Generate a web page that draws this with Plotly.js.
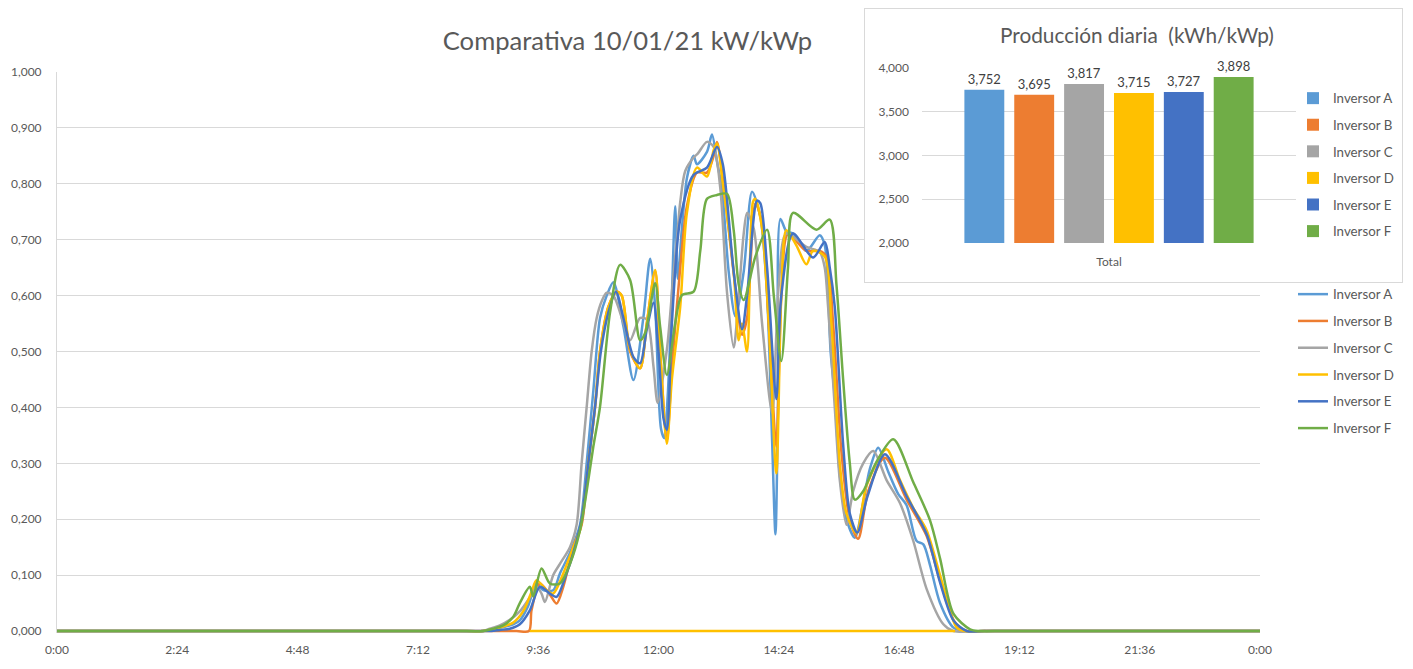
<!DOCTYPE html>
<html>
<head>
<meta charset="utf-8">
<script src="https://cdn.plot.ly/plotly-3.0.1.min.js"></script>
<style>
  html, body { margin: 0; padding: 0; background: #ffffff; }
  #chart { width: 1413px; height: 669px; }
</style>
</head>
<body>
<div id="chart"></div>
<script>
// Specific power (kW/kWp) per inverter through the day, [time, value] pairs.
const seriesNames = ['Inversor A', 'Inversor B', 'Inversor C', 'Inversor D', 'Inversor E', 'Inversor F'];
const seriesColors = ['#5B9BD5', '#ED7D31', '#A5A5A5', '#FFC000', '#4472C4', '#70AD47'];

const inversorA = [
  ['0:00', 0], ['4:00', 0], ['7:00', 0], ['8:00', 0], ['8:30', 0], ['8:42', 0.003], ['8:54', 0.007],
  ['9:06', 0.012], ['9:14', 0.019],
  ['9:24', 0.045], ['9:34', 0.085], ['9:42', 0.073], ['9:54', 0.073], ['10:02', 0.103], ['10:14', 0.14],
  ['10:26', 0.19], ['10:34', 0.3], ['10:42', 0.43], ['10:50', 0.56], ['10:58', 0.6], ['11:06', 0.624],
  ['11:18', 0.545], ['11:30', 0.449], ['11:42', 0.562], ['11:50', 0.666], ['11:56', 0.58], ['12:03', 0.362],
  ['12:07', 0.345], ['12:11', 0.42], ['12:16', 0.6], ['12:20', 0.76], ['12:23', 0.63], ['12:28', 0.72],
  ['12:34', 0.81], ['12:42', 0.85], ['12:46', 0.835], ['12:58', 0.857], ['13:04', 0.888], ['13:10', 0.84],
  ['13:16', 0.79], ['13:24', 0.643], ['13:32', 0.563], ['13:42', 0.643], ['13:52', 0.786], ['14:02', 0.74],
  ['14:10', 0.6], ['14:16', 0.34], ['14:20', 0.173], ['14:23', 0.4], ['14:26', 0.737], ['14:33', 0.715],
  ['14:41', 0.711], ['14:57', 0.68], ['15:13', 0.708], ['15:19', 0.69], ['15:26', 0.5], ['15:31', 0.42],
  ['15:37', 0.28], ['15:45', 0.2], ['15:55', 0.167], ['16:05', 0.23], ['16:13', 0.29], ['16:23', 0.328],
  ['16:35', 0.285], ['16:47', 0.245], ['16:57', 0.225], ['17:09', 0.161], ['17:17', 0.155], ['17:25', 0.118],
  ['17:37', 0.05], ['17:53', 0.006], ['18:05', 0], ['18:30', 0], ['19:30', 0], ['21:00', 0], ['24:00', 0]
];

const inversorB = [
  ['0:00', 0], ['4:00', 0], ['7:00', 0], ['8:30', 0], ['9:10', 0], ['9:25', 0], ['9:28', 0.037],
  ['9:38', 0.085], ['9:50', 0.065], ['9:58', 0.049],
  ['10:06', 0.079], ['10:18', 0.15], ['10:28', 0.19], ['10:36', 0.3], ['10:44', 0.4], ['10:50', 0.5],
  ['11:00', 0.58], ['11:10', 0.607], ['11:16', 0.6], ['11:26', 0.5], ['11:38', 0.47], ['11:46', 0.55],
  ['11:56', 0.644], ['12:02', 0.5], ['12:10', 0.34], ['12:16', 0.47], ['12:26', 0.65], ['12:34', 0.76],
  ['12:46', 0.82], ['12:58', 0.82], ['13:06', 0.85], ['13:10', 0.875], ['13:17', 0.81], ['13:30', 0.64],
  ['13:40', 0.53], ['13:46', 0.56], ['13:56', 0.765], ['14:04', 0.73], ['14:12', 0.55], ['14:21', 0.33],
  ['14:27', 0.6], ['14:35', 0.71], ['14:57', 0.68], ['15:13', 0.68], ['15:21', 0.67], ['15:29', 0.55],
  ['15:39', 0.32], ['15:49', 0.2], ['15:59', 0.165], ['16:11', 0.25], ['16:31', 0.31], ['16:57', 0.235],
  ['17:21', 0.17], ['17:37', 0.09], ['17:55', 0.015], ['18:09', 0], ['18:30', 0], ['19:30', 0],
  ['21:00', 0], ['24:00', 0]
];

const inversorC = [
  ['0:00', 0], ['4:00', 0], ['7:00', 0], ['8:00', 0], ['8:30', 0], ['8:38', 0.004], ['8:50', 0.01],
  ['9:02', 0.02], ['9:14', 0.035],
  ['9:26', 0.06], ['9:34', 0.079], ['9:40', 0.067], ['9:44', 0.052], ['9:54', 0.1], ['10:02', 0.12],
  ['10:14', 0.15], ['10:22', 0.19], ['10:28', 0.3], ['10:34', 0.4], ['10:40', 0.5], ['10:46', 0.56],
  ['10:52', 0.59], ['10:58', 0.605], ['11:06', 0.6], ['11:18', 0.551], ['11:26', 0.52], ['11:38', 0.56],
  ['11:46', 0.557], ['11:54', 0.473], ['11:59', 0.408], ['12:10', 0.503], ['12:18', 0.64], ['12:22', 0.7],
  ['12:26', 0.767], ['12:32', 0.823], ['12:42', 0.847], ['12:47', 0.854], ['12:58', 0.875], ['13:06', 0.866],
  ['13:14', 0.792], ['13:22', 0.606], ['13:30', 0.507], ['13:36', 0.6], ['13:42', 0.711], ['13:46', 0.748],
  ['13:54', 0.72], ['14:04', 0.55], ['14:16', 0.39], ['14:24', 0.62], ['14:33', 0.711], ['14:57', 0.687],
  ['15:13', 0.678], ['15:19', 0.65], ['15:23', 0.58], ['15:31', 0.4], ['15:37', 0.27], ['15:45', 0.19],
  ['15:53', 0.25], ['16:05', 0.3], ['16:17', 0.322], ['16:33', 0.27], ['16:49', 0.229], ['17:05', 0.161],
  ['17:21', 0.075], ['17:41', 0.012], ['17:53', 0], ['18:30', 0], ['19:30', 0], ['21:00', 0], ['24:00', 0]
];

const inversorD = [
  ['0:00', 0], ['4:00', 0], ['7:00', 0], ['8:00', 0], ['8:30', 0], ['8:42', 0.003], ['8:54', 0.008],
  ['9:06', 0.015], ['9:18', 0.035],
  ['9:28', 0.07], ['9:34', 0.091], ['9:46', 0.073], ['9:54', 0.067], ['10:06', 0.103], ['10:18', 0.15],
  ['10:26', 0.18], ['10:36', 0.3], ['10:44', 0.4], ['10:50', 0.5], ['11:00', 0.58], ['11:10', 0.607],
  ['11:16', 0.6], ['11:26', 0.503], ['11:38', 0.47], ['11:46', 0.55], ['11:56', 0.646], ['12:02', 0.5],
  ['12:10', 0.335], ['12:16', 0.45], ['12:26', 0.58], ['12:34', 0.748], ['12:46', 0.829], ['12:58', 0.813],
  ['13:06', 0.86], ['13:10', 0.872], ['13:17', 0.8], ['13:30', 0.643], ['13:36', 0.52], ['13:40', 0.55],
  ['13:46', 0.5], ['13:53', 0.767], ['13:56', 0.773], ['14:04', 0.72], ['14:12', 0.55], ['14:21', 0.282],
  ['14:27', 0.6], ['14:33', 0.717], ['14:45', 0.69], ['14:57', 0.656], ['15:05', 0.68], ['15:19', 0.67],
  ['15:27', 0.55], ['15:37', 0.3], ['15:45', 0.21], ['15:57', 0.175], ['16:09', 0.26], ['16:33', 0.325],
  ['16:49', 0.27], ['17:05', 0.22], ['17:21', 0.18], ['17:37', 0.1], ['17:57', 0.006], ['18:07', 0],
  ['18:30', 0], ['19:30', 0], ['21:00', 0], ['24:00', 0]
];

const inversorE = [
  ['0:00', 0], ['4:00', 0], ['7:00', 0], ['8:15', 0], ['8:40', 0], ['8:50', 0.002], ['9:02', 0.004],
  ['9:14', 0.012], ['9:26', 0.037],
  ['9:38', 0.079], ['9:50', 0.067], ['9:58', 0.061], ['10:10', 0.103], ['10:20', 0.15], ['10:28', 0.2],
  ['10:36', 0.3], ['10:44', 0.4], ['10:51', 0.5], ['11:00', 0.57], ['11:09', 0.607], ['11:18', 0.56],
  ['11:30', 0.49], ['11:38', 0.479], ['11:46', 0.54], ['11:54', 0.587], ['12:00', 0.5], ['12:06', 0.38],
  ['12:10', 0.36], ['12:16', 0.55], ['12:26', 0.736], ['12:42', 0.816], ['12:58', 0.829], ['13:10', 0.866],
  ['13:17', 0.835], ['13:30', 0.643], ['13:40', 0.54], ['13:46', 0.6], ['13:58', 0.77], ['14:02', 0.765],
  ['14:10', 0.65], ['14:21', 0.415], ['14:27', 0.6], ['14:41', 0.711], ['15:05', 0.668], ['15:19', 0.696],
  ['15:25', 0.65], ['15:31', 0.58], ['15:41', 0.334], ['15:49', 0.21], ['15:58', 0.176], ['16:10', 0.24],
  ['16:31', 0.316], ['16:57', 0.241], ['17:21', 0.173], ['17:37', 0.087], ['17:53', 0.019], ['18:09', 0],
  ['18:30', 0], ['19:30', 0], ['21:00', 0], ['24:00', 0]
];

const inversorF = [
  ['0:00', 0], ['4:00', 0], ['7:00', 0], ['8:00', 0], ['8:30', 0], ['8:42', 0.004], ['8:54', 0.01],
  ['9:06', 0.025], ['9:14', 0.05],
  ['9:26', 0.079], ['9:30', 0.062], ['9:40', 0.112], ['9:50', 0.085], ['10:02', 0.085], ['10:14', 0.12],
  ['10:26', 0.18], ['10:34', 0.25], ['10:42', 0.33], ['10:50', 0.401], ['11:02', 0.57], ['11:14', 0.655],
  ['11:26', 0.628], ['11:38', 0.52], ['11:44', 0.533], ['11:56', 0.622], ['12:02', 0.544], ['12:10', 0.458],
  ['12:20', 0.551], ['12:28', 0.601], ['12:42', 0.607], ['12:50', 0.68], ['12:58', 0.773], ['13:10', 0.78],
  ['13:22', 0.782], ['13:30', 0.717], ['13:36', 0.62], ['13:42', 0.592], ['13:56', 0.67], ['14:10', 0.718],
  ['14:18', 0.6], ['14:27', 0.483], ['14:35', 0.65], ['14:41', 0.748], ['15:09', 0.718], ['15:25', 0.736],
  ['15:33', 0.62], ['15:41', 0.45], ['15:49', 0.3], ['15:55', 0.235], ['16:05', 0.25], ['16:20', 0.3],
  ['16:41', 0.343], ['17:05', 0.266], ['17:25', 0.198], ['17:37', 0.13], ['17:53', 0.031], ['18:13', 0.003],
  ['18:25', 0], ['18:50', 0], ['19:30', 0], ['21:00', 0], ['24:00', 0]
];

// Inverter D reports zero between these two readings.
const inversorDIdle = [['9:26', 0], ['17:55', 0]];

// Daily energy per installed kWp.
const dailyYield = [3.752, 3.695, 3.817, 3.715, 3.727, 3.898];
const yieldCategory = ['Total'];

const allSeries = [inversorA, inversorB, inversorC, inversorD, inversorE, inversorF];

const FONT = 'Lato, "Open Sans", sans-serif';
const TEXT = '#595959';
const GRID = '#d9d9d9';
const W = 1413, H = 669;

function pad(n) { return (n < 10 ? '0' : '') + n; }
function stamp(hm) {
  const parts = hm.split(':').map(Number);
  const mins = parts[0] * 60 + parts[1];
  const day = mins >= 1440 ? '2021-01-11' : '2021-01-10';
  const m = mins % 1440;
  return day + ' ' + pad(Math.floor(m / 60)) + ':' + pad(m % 60);
}
// pixel helpers for placing the panels
const px = (x) => x / W;
const py = (y) => (H - y) / H;

const traces = [];
allSeries.forEach((s, i) => {
  traces.push({
    type: 'scatter', mode: 'lines',
    x: s.map(p => stamp(p[0])), y: s.map(p => p[1]),
    name: seriesNames[i], legendgroup: 'l' + i,
    line: { color: seriesColors[i], width: 2.5, shape: 'spline', smoothing: 0.8 },
    hoverinfo: 'skip', xaxis: 'x', yaxis: 'y'
  });
});
traces.push({
  type: 'scatter', mode: 'lines',
  x: inversorDIdle.map(p => stamp(p[0])), y: inversorDIdle.map(p => p[1]),
  name: seriesNames[3], showlegend: false,
  line: { color: seriesColors[3], width: 2.5 },
  hoverinfo: 'skip', xaxis: 'x', yaxis: 'y'
});
// frame panel for the daily totals
traces.push({
  type: 'scatter', mode: 'lines', x: [null], y: [null],
  showlegend: false, hoverinfo: 'skip', xaxis: 'x2', yaxis: 'y2'
});
dailyYield.forEach((v, i) => {
  traces.push({
    type: 'bar', x: yieldCategory, y: [v],
    name: seriesNames[i], legend: 'legend2', legendgroup: 'b' + i,
    marker: { color: seriesColors[i] },
    texttemplate: '%{y:.3f}', textposition: 'outside', cliponaxis: false, constraintext: 'none',
    textfont: { family: FONT, size: 13, color: '#404040' },
    hoverinfo: 'skip', xaxis: 'x3', yaxis: 'y3'
  });
});

const tickFont = { family: FONT, size: 12, color: TEXT };
const legendFont = { family: FONT, size: 13.3, color: TEXT };

const layout = {
  width: W, height: H,
  margin: { l: 0, r: 0, t: 0, b: 0 },
  paper_bgcolor: '#ffffff', plot_bgcolor: '#ffffff',
  separators: ',.',
  font: { family: FONT, size: 12, color: TEXT },
  title: {
    text: 'Comparativa 10/01/21 kW/kWp',
    x: px(627.5), xref: 'paper', xanchor: 'center',
    y: py(41), yref: 'paper', yanchor: 'middle',
    font: { family: FONT, size: 25.6, color: TEXT }
  },
  xaxis: {
    type: 'date', anchor: 'y',
    domain: [px(57), px(1260)],
    range: ['2021-01-10 00:00', '2021-01-11 00:00'],
    tick0: '2021-01-10 00:00', dtick: 8640000, tickformat: '%-H:%M',
    showgrid: false, zeroline: false, showline: false, ticks: '',
    tickfont: tickFont, ticklabelstandoff: 8
  },
  yaxis: {
    anchor: 'x',
    domain: [py(633.24), py(72)],
    range: [-0.004, 1], tick0: 0, dtick: 0.1, tickformat: '.3f',
    gridcolor: GRID, gridwidth: 1, zeroline: false,
    showline: true, linecolor: GRID, linewidth: 1, ticks: '',
    tickfont: tickFont, ticklabelstandoff: 12
  },
  xaxis2: {
    anchor: 'y2', domain: [px(865), px(1402)], range: [0, 1],
    showgrid: false, zeroline: false, showticklabels: false, ticks: '',
    showline: true, mirror: true, linecolor: GRID, linewidth: 1
  },
  yaxis2: {
    anchor: 'x2', domain: [py(282), py(9)], range: [0, 1],
    showgrid: false, zeroline: false, showticklabels: false, ticks: '',
    showline: true, mirror: true, linecolor: GRID, linewidth: 1
  },
  xaxis3: {
    anchor: 'y3', type: 'category', domain: [px(922), px(1296)],
    showgrid: false, zeroline: false, showline: false, ticks: '',
    tickfont: tickFont, ticklabelstandoff: 10
  },
  yaxis3: {
    anchor: 'x3', domain: [py(243), py(68)],
    range: [2, 4], tick0: 2, dtick: 0.5, tickformat: '.3f',
    gridcolor: GRID, gridwidth: 1, zeroline: false, showline: false, ticks: '',
    tickfont: tickFont, ticklabelstandoff: 12
  },
  barmode: 'group', bargap: 0.2, bargroupgap: 0.2,
  showlegend: true,
  legend: {
    x: px(1293), xanchor: 'left', y: py(279), yanchor: 'top',
    bgcolor: 'rgba(0,0,0,0)', font: legendFont,
    traceorder: 'grouped', tracegroupgap: 6.5, itemwidth: 30
  },
  legend2: {
    x: px(1293), xanchor: 'left', y: py(83), yanchor: 'top',
    bgcolor: 'rgba(0,0,0,0)', font: legendFont,
    traceorder: 'grouped', tracegroupgap: 6.3, itemwidth: 30
  },
  annotations: [{
    text: 'Producción diaria  (kWh/kWp)', xref: 'paper', yref: 'paper',
    x: px(1137), y: py(35), xanchor: 'center', yanchor: 'middle', showarrow: false,
    font: { family: FONT, size: 20.8, color: TEXT }
  }]
};

Plotly.newPlot('chart', traces, layout, { displayModeBar: false, staticPlot: true });
</script>
</body>
</html>
